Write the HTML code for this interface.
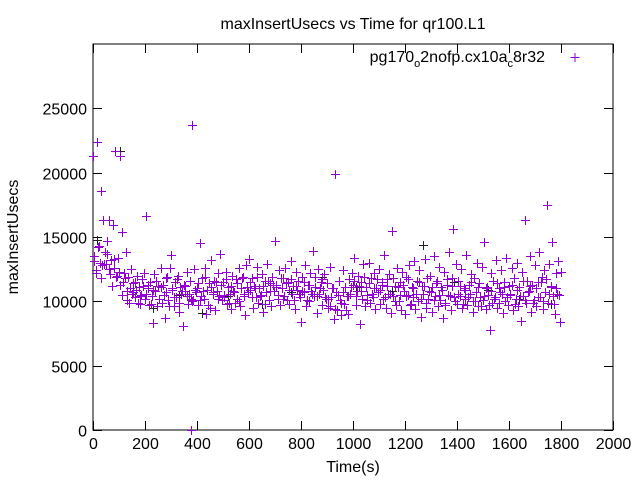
<!DOCTYPE html>
<html><head><meta charset="utf-8"><style>
body{margin:0;background:#fff}
svg{display:block;font-family:"Liberation Sans",sans-serif}
</style></head><body>
<svg id="chart" width="640" height="480" viewBox="0 0 640 480" xmlns="http://www.w3.org/2000/svg">
<rect width="640" height="480" fill="#fff"/>
<text x="353" y="29" font-size="16" text-anchor="middle">maxInsertUsecs vs Time for qr100.L1</text>
<text x="353" y="472" font-size="16" text-anchor="middle">Time(s)</text>
<text transform="translate(18,237) rotate(-90)" font-size="16" text-anchor="middle">maxInsertUsecs</text>
<g id="axes"></g>
<g id="marks"></g>
<g>
<text x="545" y="62" font-size="16" text-anchor="end">pg170<tspan font-size="11" dy="5">o</tspan><tspan dy="-5">2nofp.cx10a</tspan><tspan font-size="11" dy="5">c</tspan><tspan dy="-5">8r32</tspan></text>
<path d="M570.5 57.5h9M575 53v9" stroke="#9400d3" stroke-width="1"/>
</g>
</svg>
<script>
const xTicks=[0,200,400,600,800,1000,1200,1400,1600,1800,2000];
const yTicks=[0,5000,10000,15000,20000,25000];
const stepA=5;
const valuesA=[21300,13500,12400,22400,14200,13000,18600,12800,16300,13800,12900,14700,16300,12100,13200,15900,12600,21700,11900,13400,
12300,21300,15400,11500,12200,13800,10800,11900,9900,12500,10600,11400,10300,10900,12000,11100,9800,10500,11700,12200,
10200,16600,11000,9700,11500,10400,8300,12100,10800,9600,11200,10200,12600,9900,11300,8700,10700,11900,10100,12600,
13600,10900,9600,11500,10300,12000,9200,11100,10600,8100,11300,10800,12300,9800,10600,10200,23700,10100,12500,10700,
11000,9700,14500,10400,11800,10200,12600,9000,10900,11400,9500,13200,10700,11600,9300,10800,12200,10400,13700,10100,
11500,10300,12300,9800,11100,10600,9400,12000,10800,9900,11700,10200,12600,9600,11000,11900,10400,8900,12800,10700,
13300,10900,11800,9500,11200,10300,12700,9900,11000,10500,12100,9200,11600,10700,12900,10100,11400,9600,11900,10800,
14700,11300,10200,12400,9700,11000,11800,10400,12600,10100,11500,9800,13100,10600,11200,9400,12300,10900,11600,10300,
8400,11900,10700,12800,9600,11300,10000,12200,10800,13900,10400,11100,9100,12500,10600,11500,9700,10900,12100,10200,
11400,9500,12700,10300,11000,8600,19900,10700,9300,11600,10100,8900,12400,9800,11100,10400,9000,11700,10600,12200,
11300,13400,9700,10800,12000,8200,11500,10200,12900,9600,11100,10500,13000,9900,11800,10300,12200,9400,11000,10700,
12500,9800,11300,10200,13600,9500,11700,10600,12100,9100,15500,10400,11200,9700,12600,10000,11500,9300,12300,10800,
9000,11900,10500,12800,9700,11100,10300,13100,9400,11600,10000,12400,8800,11200,10600,13300,9500,11800,10200,12000,
10700,9200,13500,10400,11400,9600,12700,10100,11100,8700,12300,9900,11700,10500,13800,9300,11200,15600,10300,12900,
9800,11600,10400,12500,9500,11000,10200,13600,9700,11300,10600,12100,9200,11800,10000,13000,9600,11400,10300,12700,
10100,14600,9400,11100,10500,7800,12200,9900,11600,10300,13200,9500,11000,10700,12400,9100,11500,10000,13400,9700,
11200,10600,12600,9300,11800,10200,13000,9600,11100,8500,12300,10400,16300,9900,11600,10800,13500,9200,11300,10100,
12800,9600,11500,13800,10300,11900,9400,12400,10700,17500,9900,12900,11100,14600,10400,9000,12200,10600,13100,8400,
12300];
const stepB=10, offsetB=2.5;
const valuesB=[13100,12200,14300,11800,12900,13700,12500,11200,13300,12000,
11300,10500,11800,10100,11000,10700,11500,9900,10400,11200,
10600,11300,9800,10900,11600,10200,11100,10500,11800,9600,
11000,10300,11700,9900,10800,11200,10400,11600,10000,10900,
11400,10100,10800,11900,9700,11100,10600,11500,10200,11300,
10500,11700,9900,11200,10700,11400,10000,11800,10600,11100,
11500,10300,11000,11900,10400,11200,9800,11600,10800,11300,
11100,10500,11800,10200,11400,10900,11700,10100,11200,10600,
10800,11500,10100,11300,10600,11900,10400,11000,11700,10300,
10200,9600,11000,9400,10500,9900,10700,9300,10400,11100,
11600,10400,11200,10800,11900,10100,11400,10600,11000,11700,
10900,11500,10300,11200,10600,11800,10000,11100,10500,11300,
10400,11700,9800,11000,10600,11500,10200,11200,9900,10800,
11100,10100,11600,10500,10900,9700,11300,10400,11800,10000,
10600,11200,9800,10900,10300,11500,10000,10700,11100,9600,
10400,11000,9700,10800,10200,11400,9900,10600,11100,10300,
10500,11300,9800,10900,10400,11600,10100,10700,11200,9900,
11000,10300,11500,10000,11700,10600,11200,9800,11000,10500];
const timesC=[15,105,230,330,420,520,650,760,880,1010,1150,1270,1390,1520,1640,1760];
const valuesC=[14800,21700,9500,10500,9100,10400,9800,10700,11900,11100,10800,14400,11500,10900,10200,9800];
const timesD=[378];
const valuesD=[0];

const X0=93,X1=613,Y0=430,Y1=44,XMAX=2000,YMAX=30000;
const sx=v=>X0+(X1-X0)*v/XMAX;
const sy=v=>Y0-(Y0-Y1)*v/YMAX;
const NS='http://www.w3.org/2000/svg';
const axes=document.getElementById('axes');
const marks=document.getElementById('marks');
function mk(tag,attrs,parent){const e=document.createElementNS(NS,tag);for(const k in attrs)e.setAttribute(k,attrs[k]);parent.appendChild(e);return e;}
const frame=mk('rect',{x:X0,y:Y1,width:X1-X0,height:Y0-Y1,fill:'none',stroke:'#000','stroke-width':1},axes);


xTicks.forEach(t=>{
  const x=Math.round(sx(t))+0.5;
  const p=mk('path',{d:`M${x} ${Y0}v-9M${x} ${Y1}v9`,stroke:'#000','stroke-width':1},axes);
  
  
  const tx=mk('text',{x:x,y:Y0+19,'font-size':16,'text-anchor':'middle'},axes);
  tx.textContent=t;
  
  
});
yTicks.forEach(t=>{
  const y=Math.round(sy(t))+0.5;
  const p=mk('path',{d:`M${X0} ${y}h9M${X1} ${y}h-9`,stroke:'#000','stroke-width':1},axes);
  
  
  const tx=mk('text',{x:X0-6,y:y+6,'font-size':16,'text-anchor':'end'},axes);
  tx.textContent=t;
  
  
});
function cross(t,v,color,name){
  const x=Math.round(sx(t))+0.5,y=Math.round(sy(v))+0.5;
  const p=mk('path',{d:`M${x-4.5} ${y}h9M${x} ${y-4.5}v9`,stroke:color,'stroke-width':1},marks);
  
  
}
valuesC.forEach((v,i)=>cross(timesC[i],v,'#222','point-black'));
valuesA.forEach((v,i)=>cross(i*stepA,v,'#9400d3','point'));
valuesB.forEach((v,i)=>cross(offsetB+i*stepB,v,'#9400d3','point'));
valuesD.forEach((v,i)=>cross(timesD[i],v,'#9400d3','point'));
</script>
</body></html>
